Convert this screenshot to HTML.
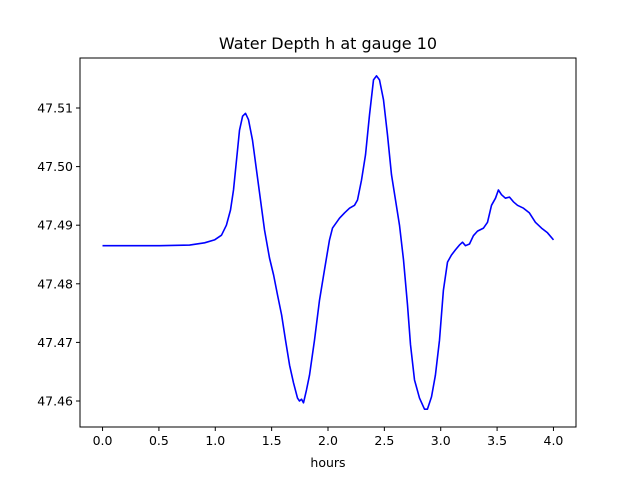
<!DOCTYPE html>
<html><head><meta charset="utf-8"><style>
body{margin:0;background:#fff;}
svg{display:block;font-family:"DejaVu Sans","Liberation Sans",sans-serif;}
</style></head><body>
<svg id="chart" width="640" height="480"></svg>
<script>
const times=[0,0.506,0.772,0.905,0.993,1.055,1.099,1.135,1.162,1.188,1.215,1.242,1.268,1.295,1.330,1.366,1.401,1.437,1.481,1.517,1.552,1.588,1.623,1.659,1.694,1.729,1.747,1.765,1.783,1.809,1.836,1.880,1.925,1.969,2.013,2.040,2.102,2.146,2.191,2.235,2.262,2.297,2.333,2.368,2.404,2.430,2.457,2.492,2.528,2.563,2.599,2.634,2.670,2.705,2.732,2.767,2.812,2.856,2.882,2.918,2.953,2.989,3.024,3.060,3.095,3.131,3.166,3.193,3.220,3.255,3.290,3.326,3.379,3.415,3.450,3.486,3.512,3.539,3.574,3.610,3.645,3.681,3.734,3.787,3.840,3.894,3.947,4.0];
const depths=[47.4865,47.4865,47.4866,47.4870,47.4875,47.4883,47.4900,47.4926,47.4960,47.5011,47.5062,47.5086,47.5091,47.5080,47.5045,47.4994,47.4943,47.4892,47.4844,47.4815,47.4781,47.4747,47.4704,47.4661,47.4631,47.4605,47.4600,47.4603,47.4597,47.4619,47.4644,47.4704,47.4772,47.4824,47.4875,47.4895,47.4912,47.4921,47.4929,47.4934,47.4943,47.4977,47.5020,47.5088,47.5148,47.5155,47.5148,47.5114,47.5054,47.4986,47.4943,47.4900,47.4841,47.4764,47.4696,47.4636,47.4605,47.4586,47.4586,47.4607,47.4644,47.4704,47.4789,47.4837,47.4849,47.4858,47.4866,47.4871,47.4865,47.4868,47.4882,47.4890,47.4895,47.4905,47.4934,47.4946,47.4960,47.4952,47.4946,47.4948,47.4940,47.4934,47.4929,47.4921,47.4905,47.4895,47.4887,47.4875];
const xTicks=[0,0.5,1,1.5,2,2.5,3,3.5,4];
const xTickLabels=["0.0","0.5","1.0","1.5","2.0","2.5","3.0","3.5","4.0"];
const yTicks=[47.46,47.47,47.48,47.49,47.50,47.51];
const yTickLabels=["47.46","47.47","47.48","47.49","47.50","47.51"];

const L=80,R=576,T=58,B=427;
const xMin=-0.2,xMax=4.2;
const yAt47_51=108,yAt47_46=401;
const sx=t=>L+(t-xMin)/(xMax-xMin)*(R-L);
const sy=v=>yAt47_46+(47.46-v)*(yAt47_46-yAt47_51)/0.05;
const NS="http://www.w3.org/2000/svg";
const svg=document.getElementById('chart');
function mk(tag,attrs,parent){const e=document.createElementNS(NS,tag);for(const k in attrs)e.setAttribute(k,attrs[k]);(parent||svg).appendChild(e);return e;}

const line=mk('polyline',{points:times.map((t,i)=>sx(t).toFixed(1)+','+sy(depths[i]).toFixed(1)).join(' '),fill:'none',stroke:'#0000ff','stroke-width':1.6,'stroke-linejoin':'round'});



const frame=mk('rect',{x:L,y:T,width:R-L,height:B-T,fill:'none',stroke:'#000','stroke-width':1});



xTicks.forEach((t,i)=>{
  const x=sx(t);
  const tk=mk('line',{x1:x,y1:B,x2:x,y2:B+4,stroke:'#000'});
  
  
  const lb=mk('text',{x:x,y:B+18,'text-anchor':'middle','font-size':'12.5'});
  lb.textContent=xTickLabels[i];
  
  
});
yTicks.forEach((v,i)=>{
  const y=sy(v);
  const tk=mk('line',{x1:L-4,y1:y,x2:L,y2:y,stroke:'#000'});
  
  
  const lb=mk('text',{x:L-7,y:y+4.5,'text-anchor':'end','font-size':'12.5'});
  lb.textContent=yTickLabels[i];
  
  
});
const title=mk('text',{x:(L+R)/2,y:49,'text-anchor':'middle','font-size':'16'});
title.textContent='Water Depth h at gauge 10';


const xl=mk('text',{x:(L+R)/2,y:467,'text-anchor':'middle','font-size':'12.5'});
xl.textContent='hours';


</script>
</body></html>
